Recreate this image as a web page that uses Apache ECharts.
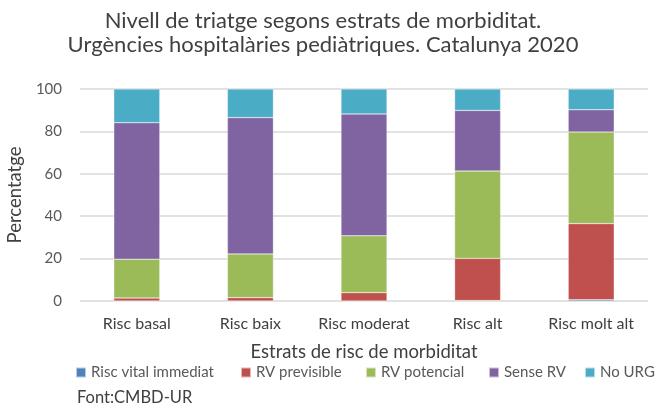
<!DOCTYPE html>
<html>
<head>
<meta charset="utf-8">
<script src="https://cdn.jsdelivr.net/npm/echarts@6/dist/echarts.min.js"></script>
<style>
html, body { margin: 0; padding: 0; background: #fff; }
#chart { width: 656px; height: 405px; }
</style>
</head>
<body>
<div id="chart"></div>
<script>
var categories = ['Risc basal', 'Risc baix', 'Risc moderat', 'Risc alt', 'Risc molt alt'];
var riscVital = [0.02, 0.02, 0.05, 0.2, 0.6];
var rvPrevisible = [1.4, 1.6, 3.9, 19.9, 35.9];
var rvPotencial = [18.3, 20.6, 26.8, 41.2, 43.2];
var senseRV = [64.4, 64.3, 57.5, 28.6, 10.5];
var noURG = [15.9, 13.5, 11.8, 10.1, 9.8];
var yTicks = [0, 20, 40, 60, 80, 100];

var seriesNames = ['Risc vital immediat', 'RV previsible', 'RV potencial', 'Sense RV', 'No URG'];
var seriesColors = ['#4F81BD', '#C0504D', '#9BBB59', '#8064A2', '#4BACC6'];
var seriesData = [riscVital, rvPrevisible, rvPotencial, senseRV, noURG];
// x of each legend square (Excel-style spacing)
var legendLeft = [75, 240, 365, 488, 584];

var fontName = 'Lato';
var myChart = echarts.init(document.getElementById('chart'));

var series = [];
var legends = [];
for (var i = 0; i < seriesNames.length; i++) {
    series.push({
        name: seriesNames[i],
        type: 'bar',
        stack: 'total',
        barWidth: 46,
        data: seriesData[i],
        itemStyle: { color: seriesColors[i], borderColor: 'rgba(255,255,255,0.6)', borderWidth: 0.5 }
    });
    legends.push({
        left: legendLeft[i],
        top: 365,
        padding: 0,
        itemWidth: 10,
        itemHeight: 10,
        itemGap: 4,
        icon: 'rect',
        textStyle: { fontSize: 15, color: '#595959', fontFamily: fontName },
        data: [seriesNames[i]]
    });
}

var option = {
    animation: false,
    textStyle: { fontFamily: fontName },
    title: {
        text: 'Nivell de triatge segons estrats de morbiditat.\nUrgències hospitalàries pediàtriques. Catalunya 2020',
        left: 318,
        textAlign: 'center',
        top: 4,
        textStyle: { fontSize: 22, fontWeight: 'normal', color: '#404040', lineHeight: 24, fontFamily: fontName }
    },
    legend: legends,
    graphic: [{
        type: 'text',
        left: 77,
        top: 389,
        style: { text: 'Font:CMBD-UR', fontSize: 16.5, fill: '#404040', fontFamily: fontName }
    }],
    grid: { left: 80, right: 8, top: 89, bottom: 104, outerBoundsMode: 'none' },
    xAxis: {
        type: 'category',
        data: categories,
        name: 'Estrats de risc de morbiditat',
        nameLocation: 'middle',
        nameGap: 42,
        nameTextStyle: { fontSize: 18.5, color: '#404040' },
        axisLine: { show: false },
        axisTick: { show: false },
        axisLabel: { fontSize: 16, color: '#404040', margin: 15, interval: 0 }
    },
    yAxis: {
        type: 'value',
        min: yTicks[0],
        max: yTicks[yTicks.length - 1],
        interval: 20,
        name: 'Percentatge',
        nameLocation: 'middle',
        nameGap: 50,
        nameTextStyle: { fontSize: 18.5, color: '#404040' },
        axisLabel: { fontSize: 15, color: '#595959', margin: 18 },
        splitLine: { lineStyle: { color: '#d9d9d9', width: 1.5 } }
    },
    series: series
};

myChart.setOption(option);
</script>
</body>
</html>
